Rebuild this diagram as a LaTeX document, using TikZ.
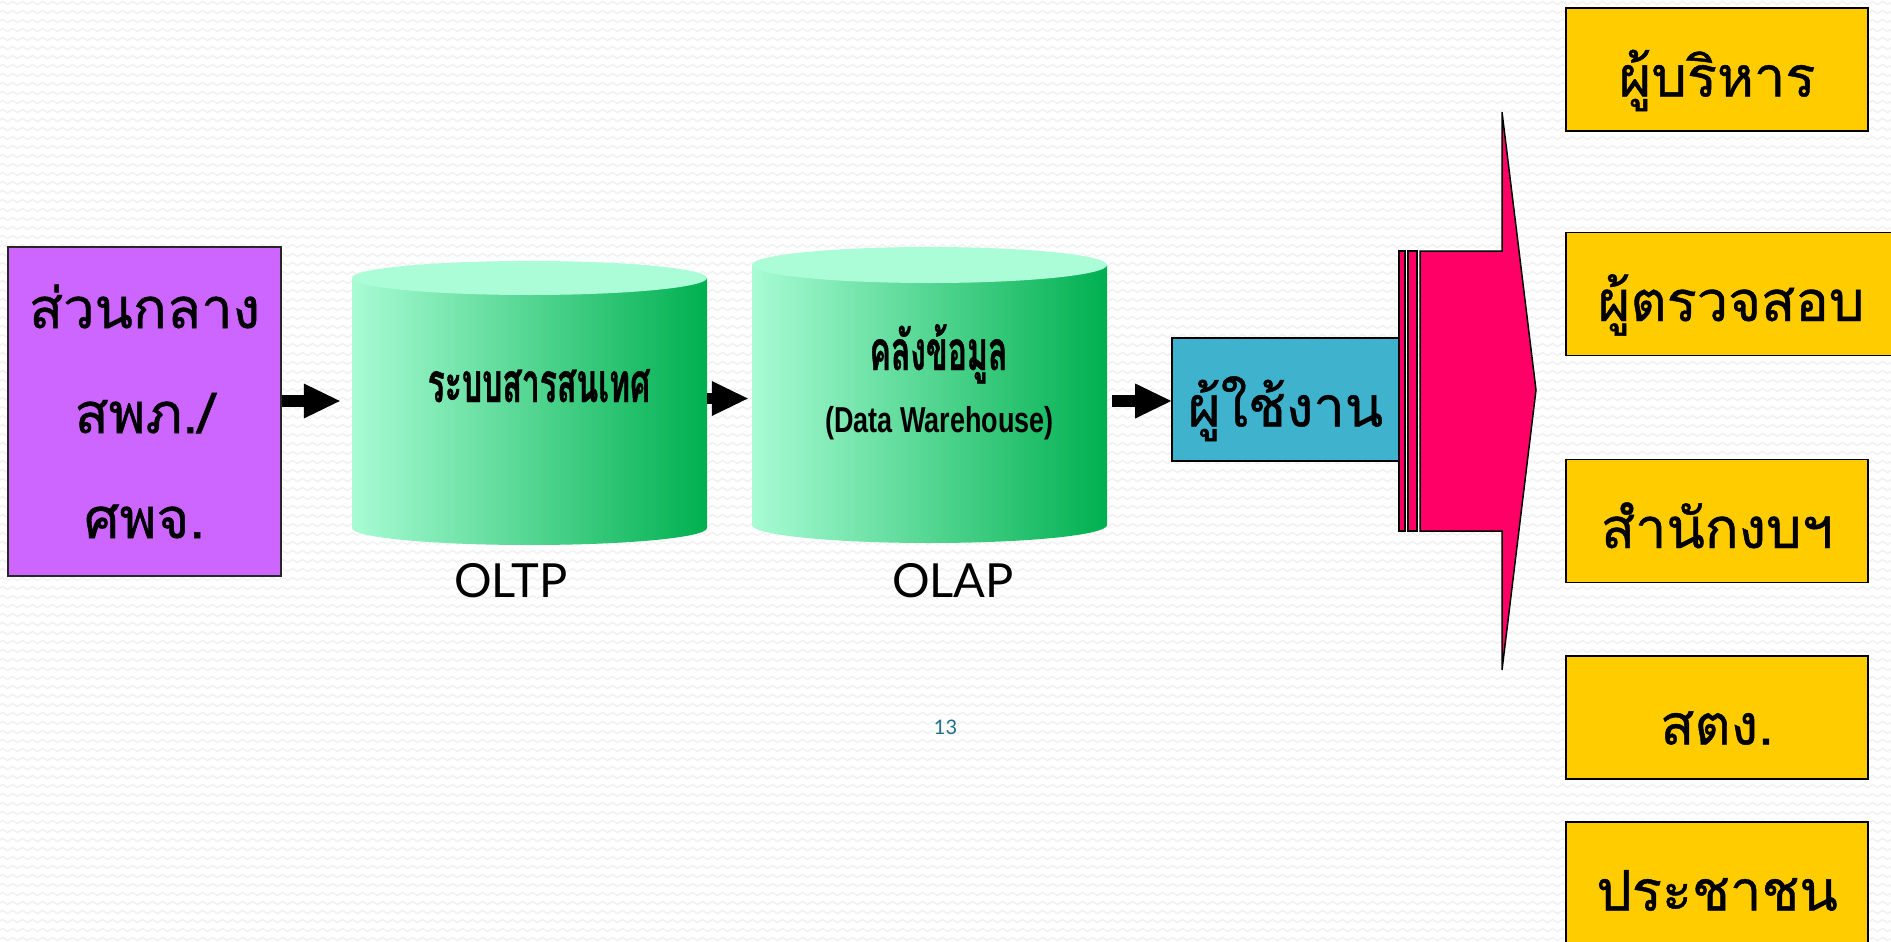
\documentclass[tikz,border=0pt]{standalone}
\usepackage{fontspec}
\usetikzlibrary{arrows.meta,decorations.pathmorphing}
\newfontfamily\thaifont[Script=Thai,FakeBold=0.8]{Loma}
\newfontfamily\thainarrow[Script=Thai,FakeStretch=0.58,FakeBold=0.7]{Loma}
\newfontfamily\narrowsans[FakeStretch=0.75]{Liberation Sans}
\newfontfamily\gillish{Lato}
\definecolor{purplebox}{HTML}{CC66FF}
\definecolor{bluebox}{HTML}{3FB3CD}
\definecolor{pinkbox}{HTML}{FF0066}
\definecolor{yellowbox}{HTML}{FFCC00}
\definecolor{cylL}{HTML}{A8FCD4}
\definecolor{cylR}{HTML}{00B050}
\definecolor{cylTop}{HTML}{AAFDD6}
\definecolor{pagenum}{HTML}{1D6F8C}
\definecolor{zig}{HTML}{F1F1F1}
\begin{document}
\begin{tikzpicture}[x=1pt,y=1pt,
  bgzig/.style={draw=zig,line width=1.4pt,decorate,decoration={zigzag,segment length=10pt,amplitude=1.5pt}},
  box/.style={draw=black,line width=1.6pt,inner sep=0pt,text height=54pt,text depth=0pt,
    font=\thaifont\fontsize{56}{70}\selectfont},
  ybox/.style={box,fill=yellowbox,minimum width=302pt,minimum height=123pt},
  cyltext/.style={font=\thainarrow\bfseries\fontsize{55}{60}\selectfont,inner sep=0pt},
  engtext/.style={font=\narrowsans\bfseries\fontsize{36}{40}\selectfont,inner sep=0pt},
  dblabel/.style={font=\gillish\fontsize{47}{50}\selectfont,inner sep=0pt},
  blockarrow/.style={line width=11.5pt,-{Triangle[length=36pt,width=35pt,line width=0pt]}},
  pinkshape/.style={fill=pinkbox,draw=black,line width=1.5pt}]
\useasboundingbox (0,0) rectangle (1891,-942);
\fill[white] (0,0) rectangle (1891,-942);
\begin{scope}
  \clip (0,0) rectangle (1891,-942);
  \foreach \r in {0,...,105} \draw[bgzig] (-10,{-3-9*\r}) -- (1901,{-3-9*\r});
\end{scope}

% source box
\node[draw=black!85,line width=1.6pt,fill=purplebox,inner sep=0pt,
  minimum width=273pt,minimum height=329pt,align=center,
  font=\thaifont\fontsize{56}{105}\selectfont] (src) at (144.5,-411.5)
  {ส่วนกลาง\\สพภ./\\ศพจ.};

% cylinder 1 (OLTP)
\shade[left color=cylL,right color=cylR] (352,-278) -- (352,-528)
  arc[start angle=180,end angle=360,x radius=177.5pt,y radius=17pt] -- (707,-278) -- cycle;
\fill[cylTop] (529.5,-278) ellipse[x radius=177.5pt,y radius=17pt];
\node[inner sep=0pt,minimum width=355pt,minimum height=284pt] (oltp) at (529.5,-403) {};
\node[cyltext,anchor=base] (oltpname) at (539,-402) {ระบบสารสนเทศ};
\node[dblabel,anchor=base] (oltplabel) at (511,-597) {OLTP};

% cylinder 2 (OLAP)
\shade[left color=cylL,right color=cylR] (752,-265) -- (752,-525)
  arc[start angle=180,end angle=360,x radius=177.5pt,y radius=18pt] -- (1107,-265) -- cycle;
\fill[cylTop] (929.5,-265) ellipse[x radius=177.5pt,y radius=18pt];
\node[inner sep=0pt,minimum width=355pt,minimum height=296pt] (olap) at (929.5,-395) {};
\node[cyltext,anchor=base] (olapname) at (938.5,-370) {คลังข้อมูล};
\node[engtext,anchor=base] (olapeng) at (939.5,-432) {(Data Warehouse)};
\node[dblabel,anchor=base] (olaplabel) at (953,-597) {OLAP};

% user box
\node[box,fill=bluebox,minimum width=227pt,minimum height=123pt] (user) at (1285.5,-399.5) {ผู้ใช้งาน};

% arrows
\draw[blockarrow,shorten >=12pt] (src.east |- 0,-401) -- (oltp.west |- 0,-401);
\draw[blockarrow,shorten >=4pt] (oltp.east |- 0,-398.5) -- (olap.west |- 0,-398.5);
\draw[blockarrow,shorten <=5pt] (olap.east |- 0,-401) -- (user.west |- 0,-401);

% big pink arrow
\filldraw[pinkshape] (1399,-251) rectangle (1405,-531);
\filldraw[pinkshape] (1408,-251) rectangle (1417,-531);
\filldraw[pinkshape] (1420,-251) -- (1502,-251) -- (1502,-112) -- (1536,-390)
  -- (1502,-670) -- (1502,-531) -- (1420,-531) -- cycle;

% target boxes
\node[ybox] (exec) at (1717,-69.5) {ผู้บริหาร};
\node[ybox,minimum width=330pt] (audit) at (1731,-294) {ผู้ตรวจสอบ};
\node[ybox] (budget) at (1717,-521) {สำนักงบฯ};
\node[ybox] (oag) at (1717,-717.5) {สตง.};
\node[ybox] (public) at (1717,-883.5) {ประชาชน};

% page number
\node[font=\gillish\fontsize{20}{24}\selectfont,text=pagenum,anchor=base,inner sep=0pt] (pnum) at (945.5,-734) {13};
\end{tikzpicture}
\end{document}
